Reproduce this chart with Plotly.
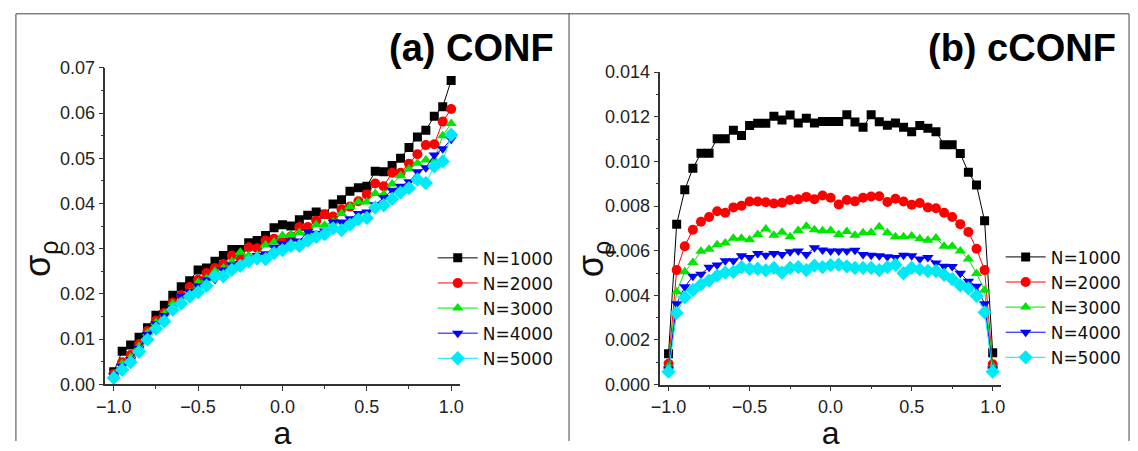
import plotly.graph_objects as go

# asymmetry parameter a (common grid for both panels)
a_values = [-1.0, -0.95, -0.9, -0.85, -0.8, -0.75, -0.7, -0.65, -0.6, -0.55,
            -0.5, -0.45, -0.4, -0.35, -0.3, -0.25, -0.2, -0.15, -0.1, -0.05,
            0.0, 0.05, 0.1, 0.15, 0.2, 0.25, 0.3, 0.35, 0.4, 0.45,
            0.5, 0.55, 0.6, 0.65, 0.7, 0.75, 0.8, 0.85, 0.9, 0.95, 1.0]

series_names = ["N=1000", "N=2000", "N=3000", "N=4000", "N=5000"]

# (a) CONF
conf_n1000 = [0.0028, 0.0073, 0.0087, 0.0104, 0.0125, 0.0153, 0.0175, 0.0197, 0.0216, 0.0229,
              0.0253, 0.0257, 0.0272, 0.0285, 0.0298, 0.0298, 0.0313, 0.0318, 0.0329, 0.0346,
              0.0353, 0.0350, 0.0364, 0.0374, 0.0381, 0.0376, 0.0399, 0.0408, 0.0427, 0.0435,
              0.0438, 0.0471, 0.0470, 0.0484, 0.0500, 0.0524, 0.0547, 0.0562, 0.0593, 0.0614,
              0.0672]
conf_n2000 = [0.0023, 0.0049, 0.0065, 0.0089, 0.0118, 0.0141, 0.0158, 0.0181, 0.0197, 0.0215,
              0.0231, 0.0246, 0.0257, 0.0266, 0.0285, 0.0280, 0.0303, 0.0301, 0.0318, 0.0322,
              0.0320, 0.0327, 0.0348, 0.0348, 0.0362, 0.0376, 0.0371, 0.0387, 0.0393, 0.0405,
              0.0420, 0.0444, 0.0438, 0.0468, 0.0468, 0.0488, 0.0509, 0.0529, 0.0531, 0.0581,
              0.0609]
conf_n3000 = [0.0021, 0.0046, 0.0060, 0.0084, 0.0114, 0.0137, 0.0156, 0.0179, 0.0184, 0.0203,
              0.0225, 0.0234, 0.0250, 0.0257, 0.0271, 0.0292, 0.0285, 0.0286, 0.0308, 0.0315,
              0.0329, 0.0331, 0.0336, 0.0334, 0.0353, 0.0352, 0.0359, 0.0378, 0.0393, 0.0403,
              0.0403, 0.0422, 0.0420, 0.0443, 0.0461, 0.0476, 0.0489, 0.0496, 0.0496, 0.0550,
              0.0577]
conf_n4000 = [0.0019, 0.0040, 0.0055, 0.0080, 0.0110, 0.0134, 0.0152, 0.0170, 0.0195, 0.0205,
              0.0218, 0.0231, 0.0232, 0.0253, 0.0264, 0.0267, 0.0272, 0.0285, 0.0289, 0.0303,
              0.0311, 0.0317, 0.0317, 0.0338, 0.0334, 0.0339, 0.0359, 0.0359, 0.0366, 0.0378,
              0.0381, 0.0397, 0.0413, 0.0429, 0.0438, 0.0448, 0.0470, 0.0479, 0.0507, 0.0521,
              0.0542]
conf_n5000 = [0.0014, 0.0032, 0.0049, 0.0072, 0.0099, 0.0123, 0.0139, 0.0165, 0.0179, 0.0194,
              0.0204, 0.0218, 0.0239, 0.0239, 0.0253, 0.0262, 0.0272, 0.0278, 0.0277, 0.0290,
              0.0297, 0.0306, 0.0306, 0.0318, 0.0326, 0.0332, 0.0345, 0.0341, 0.0353, 0.0365,
              0.0368, 0.0391, 0.0396, 0.0410, 0.0424, 0.0434, 0.0453, 0.0445, 0.0482, 0.0493,
              0.0552]

# (b) cCONF
cconf_n1000 = [0.00138, 0.00719, 0.00873, 0.00969, 0.01036, 0.01036, 0.01102, 0.01102, 0.01139, 0.01116,
               0.01161, 0.01171, 0.01171, 0.01202, 0.01186, 0.01208, 0.01172, 0.01193, 0.01172, 0.01179,
               0.01179, 0.01179, 0.01209, 0.01176, 0.01153, 0.01209, 0.01178, 0.01162, 0.01172, 0.01153,
               0.01133, 0.01161, 0.01148, 0.01133, 0.01075, 0.01075, 0.01035, 0.00951, 0.00894, 0.00734,
               0.00143]
cconf_n2000 = [0.00093, 0.00513, 0.00620, 0.00694, 0.00730, 0.00751, 0.00777, 0.00770, 0.00794, 0.00801,
               0.00820, 0.00820, 0.00817, 0.00811, 0.00815, 0.00827, 0.00830, 0.00841, 0.00831, 0.00847,
               0.00837, 0.00807, 0.00827, 0.00821, 0.00837, 0.00843, 0.00844, 0.00818, 0.00833, 0.00820,
               0.00806, 0.00814, 0.00794, 0.00790, 0.00770, 0.00751, 0.00719, 0.00684, 0.00609, 0.00513,
               0.00091]
cconf_n3000 = [0.00081, 0.00416, 0.00506, 0.00547, 0.00597, 0.00607, 0.00627, 0.00634, 0.00656, 0.00656,
               0.00649, 0.00673, 0.00697, 0.00669, 0.00683, 0.00663, 0.00691, 0.00709, 0.00694, 0.00689,
               0.00691, 0.00672, 0.00686, 0.00669, 0.00680, 0.00681, 0.00707, 0.00680, 0.00663, 0.00663,
               0.00666, 0.00654, 0.00647, 0.00657, 0.00620, 0.00620, 0.00599, 0.00563, 0.00498, 0.00423,
               0.00081]
cconf_n4000 = [0.00070, 0.00362, 0.00438, 0.00485, 0.00495, 0.00526, 0.00536, 0.00555, 0.00555, 0.00577,
               0.00570, 0.00587, 0.00580, 0.00587, 0.00583, 0.00595, 0.00599, 0.00583, 0.00613, 0.00603,
               0.00599, 0.00599, 0.00599, 0.00602, 0.00583, 0.00580, 0.00577, 0.00573, 0.00569, 0.00580,
               0.00577, 0.00563, 0.00569, 0.00545, 0.00530, 0.00529, 0.00499, 0.00463, 0.00441, 0.00362,
               0.00070]
cconf_n5000 = [0.00058, 0.00321, 0.00391, 0.00423, 0.00449, 0.00466, 0.00488, 0.00502, 0.00505, 0.00526,
               0.00519, 0.00519, 0.00512, 0.00523, 0.00502, 0.00523, 0.00526, 0.00513, 0.00533, 0.00526,
               0.00535, 0.00537, 0.00530, 0.00523, 0.00523, 0.00523, 0.00513, 0.00526, 0.00537, 0.00499,
               0.00523, 0.00516, 0.00509, 0.00509, 0.00492, 0.00473, 0.00445, 0.00431, 0.00398, 0.00324,
               0.00058]

conf_series = [conf_n1000, conf_n2000, conf_n3000, conf_n4000, conf_n5000]
cconf_series = [cconf_n1000, cconf_n2000, cconf_n3000, cconf_n4000, cconf_n5000]

colors = ["#000000", "#ff0000", "#00e600", "#0000ff", "#00eaf6"]
symbols = ["square", "circle", "triangle-up", "triangle-down", "diamond"]
sizes = [9, 10, 10, 10, 11]

FONT = "Arial, Liberation Sans, sans-serif"
LEGEND_FONT = "DejaVu Sans, sans-serif"
W, H = 1138, 451

fig = go.Figure()

for name, ys, c, s, sz in zip(series_names, conf_series, colors, symbols, sizes):
    fig.add_trace(go.Scatter(
        x=a_values, y=ys, name=name, mode="lines+markers",
        line=dict(color=c, width=1), marker=dict(symbol=s, size=sz, color=c),
        xaxis="x", yaxis="y", legend="legend"))

for name, ys, c, s, sz in zip(series_names, cconf_series, colors, symbols, sizes):
    fig.add_trace(go.Scatter(
        x=a_values, y=ys, name=name, mode="lines+markers",
        line=dict(color=c, width=1), marker=dict(symbol=s, size=sz, color=c),
        xaxis="x2", yaxis="y2", legend="legend2"))

axis_common = dict(
    showline=True, linecolor="#333333", linewidth=1.5, mirror=False,
    showgrid=False, zeroline=False, ticks="outside", ticklen=5, tickwidth=1,
    tickcolor="#333333", tickfont=dict(family=FONT, size=18, color="#222222"),
)

xaxis_common = dict(axis_common, range=[-1.05, 1.05], tick0=-1.0, dtick=0.5,
                    tickformat=".1f",
                    minor=dict(ticks="outside", ticklen=3, dtick=0.25, tick0=-1.0,
                               tickcolor="#333333"),
                    title=dict(text="a", font=dict(family=FONT, size=32, color="#111111"),
                               standoff=4))

legend_common = dict(xanchor="left", yanchor="top", bgcolor="rgba(0,0,0,0)",
                     borderwidth=0, tracegroupgap=0, itemwidth=40,
                     font=dict(family=LEGEND_FONT, size=17, color="#111111"))

fig.update_layout(
    width=W, height=H,
    margin=dict(l=0, r=0, t=0, b=0),
    paper_bgcolor="white", plot_bgcolor="white",
    font=dict(family=FONT, color="#111111"),
    xaxis=dict(xaxis_common, domain=[0.0848, 0.4000], anchor="y"),
    yaxis=dict(axis_common, domain=[0.1315, 0.8659], anchor="x",
               range=[0, 0.07], dtick=0.01, tickformat=".2f",
               minor=dict(ticks="outside", ticklen=3, dtick=0.005, tickcolor="#333333")),
    xaxis2=dict(xaxis_common, domain=[0.5787, 0.8815], anchor="y2"),
    yaxis2=dict(axis_common, domain=[0.1308, 0.8559], anchor="x2",
                range=[0, 0.014], dtick=0.002, tickformat=".3f",
                minor=dict(ticks="outside", ticklen=3, dtick=0.001, tickcolor="#333333")),
    legend=dict(legend_common, x=428 / W, y=1 - 241 / H),
    legend2=dict(legend_common, x=1003 / W, y=1 - 240 / H),
    showlegend=True,
)

# y-axis titles, set slightly below the axis middle
for x_px in (31, 591):
    fig.add_annotation(text="σ<sub>ρ</sub>", x=x_px / W, y=1 - 260 / H,
                       xref="paper", yref="paper", xanchor="center", yanchor="middle",
                       textangle=-90, showarrow=False,
                       font=dict(family=FONT, size=36, color="#111111"))

# panel labels
fig.add_annotation(text="<b>(a) CONF</b>", x=553 / W, y=1 - 40 / H, xref="paper", yref="paper",
                   xanchor="right", yanchor="middle", showarrow=False,
                   font=dict(family=FONT, size=38, color="#000000"))
fig.add_annotation(text="<b>(b) cCONF</b>", x=1122 / W, y=1 - 40 / H, xref="paper", yref="paper",
                   xanchor="right", yanchor="middle", showarrow=False,
                   font=dict(family=FONT, size=38, color="#000000"))

# panel frames
frame = dict(type="line", xref="paper", yref="paper", line=dict(color="#444444", width=1))
fig.add_shape(frame, x0=6 / W, x1=1133 / W, y0=1 - 4 / H, y1=1 - 4 / H)
fig.add_shape(frame, x0=6 / W, x1=6 / W, y0=0, y1=1 - 4 / H)
fig.add_shape(frame, x0=566 / W, x1=566 / W, y0=0, y1=1 - 4 / H)
fig.add_shape(frame, x0=1133 / W, x1=1133 / W, y0=0, y1=1 - 4 / H)

fig.write_html("out.html")
